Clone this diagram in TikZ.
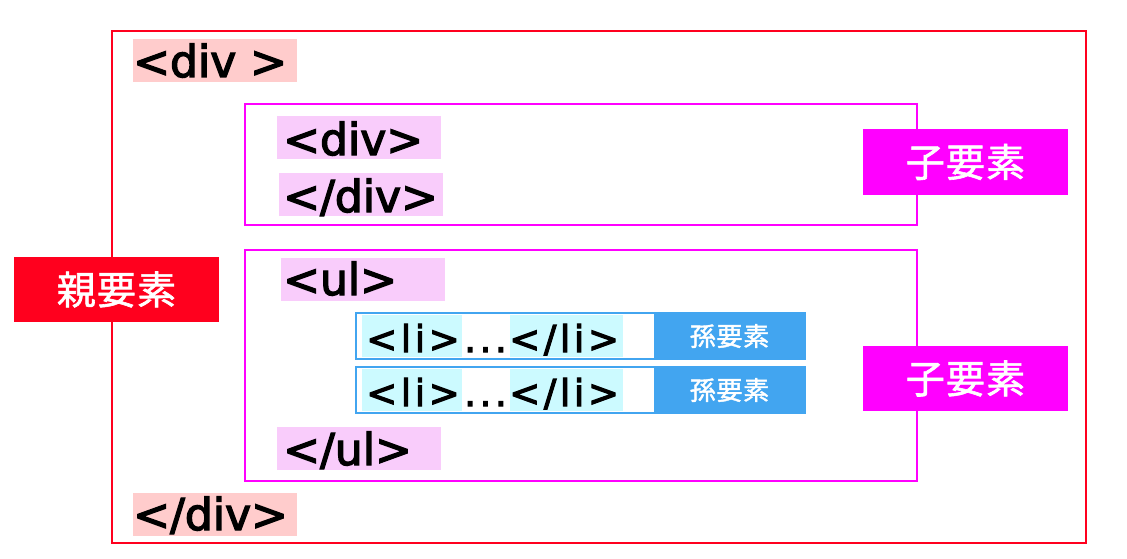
\documentclass[tikz,border=0pt]{standalone}
\usepackage{fontspec}
\setmainfont{Noto Sans CJK JP}
\newfontfamily\tagfont[FakeBold=3]{DejaVu Sans}
\newfontfamily\litagfont[FakeBold=3,LetterSpace=10]{DejaVu Sans}
\newfontfamily\rolefont[FakeBold=1.5,LetterSpace=3]{Noto Sans CJK JP}
\definecolor{parentred}{HTML}{FF001E}
\definecolor{childpink}{HTML}{FF00FF}
\definecolor{grandblue}{HTML}{42A5F0}
\definecolor{divbg}{HTML}{FFCCCC}
\definecolor{childbg}{HTML}{F9CCFB}
\definecolor{libg}{HTML}{CCFAFF}

\begin{document}
\begin{tikzpicture}[x=1pt,y=-1pt,
  tag/.style={font=\tagfont\fontsize{44}{44}\selectfont, inner sep=0pt, anchor=base west},
  litag/.style={font=\litagfont\fontsize{37}{37}\selectfont, inner sep=0pt, anchor=base west},
  rolebox/.style={fill=#1, text=white, inner sep=0pt, minimum width=205pt, minimum height=65pt,
    font=\rolefont\fontsize{39}{39}\selectfont},
  grandbox/.style={fill=grandblue, text=white, inner sep=0pt, minimum width=151pt, minimum height=46pt,
    font=\rolefont\fontsize{26}{26}\selectfont}]
\useasboundingbox (0,0) rectangle (1127,559);

% Outer div
\draw[parentred, line width=2pt] (112,31) rectangle (1086,543);
\fill[divbg] (133,39) rectangle (297,82);
\node[tag] (opendiv) at (133,77) {<div >};
\fill[divbg] (133,493) rectangle (297,536);
\node[tag] (closediv) at (133,530) {</div>};
\node[rolebox=parentred] (parent) at (116.5,289.5) {親要素};

% First child
\draw[childpink, line width=2pt] (245,104) rectangle (917,225);
\fill[childbg] (277,116) rectangle (441,159);
\node[tag] (openinner) at (283,155) {<div>};
\fill[childbg] (279,173) rectangle (443,216);
\node[tag] (closeinner) at (283,212) {</div>};
\node[rolebox=childpink] (childa) at (965.5,162) {子要素};

% Second child
\draw[childpink, line width=2pt] (245,250) rectangle (917,481);
\fill[childbg] (281,258) rectangle (445,301);
\node[tag] (openul) at (283,295) {<ul>};
\fill[childbg] (277,427) rectangle (441,470);
\node[tag] (closeul) at (283,465) {</ul>};
\node[rolebox=childpink] (childb) at (965.5,378.5) {子要素};

% Grandchildren
\foreach \y/\n in {0/1,54/2} {
  \draw[grandblue, line width=1.5pt] (356,313+\y) rectangle (805,359+\y);
  \fill[libg] (362,315+\y) rectangle (462,357+\y);
  \fill[libg] (510,315+\y) rectangle (623,357+\y);
  \node[litag] (liopen\n) at (366,352+\y) {<li>};
  \node[litag] (lidots\n) at (464,352+\y) {...};
  \node[litag] (liclose\n) at (509,352+\y) {</li>};
  \node[grandbox] (grand\n) at (729.5,336+\y) {孫要素};
}

\end{tikzpicture}
\end{document}
